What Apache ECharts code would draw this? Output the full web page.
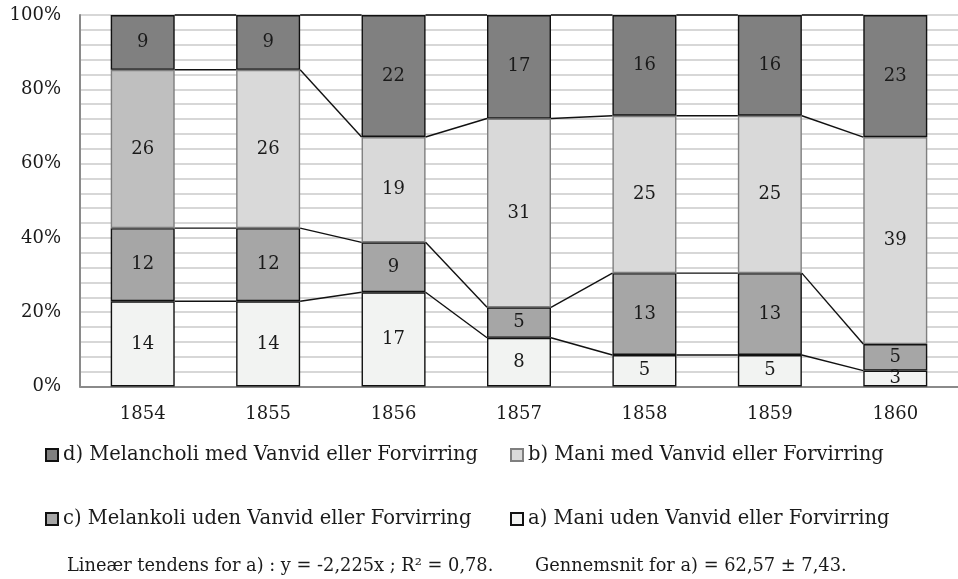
<!DOCTYPE html>
<html><head><meta charset="utf-8">
<script src="https://cdn.jsdelivr.net/npm/echarts@6/dist/echarts.min.js"></script>
<style>html,body{margin:0;padding:0;background:#fff}#c{width:958px;height:579px}</style>
</head><body><div id="c"></div>
<script>
const years = ['1854','1855','1856','1857','1858','1859','1860'];
const aVals = [14,14,17,8,5,5,3];
const cVals = [12,12,9,5,13,13,5];
const bVals = [26,26,19,31,25,25,39];
const dVals = [9,9,22,17,16,16,23];
const yTicks = [0,20,40,60,80,100];
const names = {
  d: 'd) Melancholi med Vanvid eller Forvirring',
  b: 'b) Mani med Vanvid eller Forvirring',
  c: 'c) Melankoli uden Vanvid eller Forvirring',
  a: 'a) Mani uden Vanvid eller Forvirring'
};
const noteLeft = 'Lineær tendens for a) : y = -2,225x ; R² = 0,78.';
const noteRight = 'Gennemsnit for a) = 62,57 ± 7,43.';

const totals = years.map((_, i) => aVals[i] + cVals[i] + bVals[i] + dVals[i]);
const pct = arr => arr.map((v, i) => v / totals[i] * 100);
const levels = years.map((_, i) => {
  const t = totals[i];
  return [aVals[i] / t * 100, (aVals[i] + cVals[i]) / t * 100, (aVals[i] + cVals[i] + bVals[i]) / t * 100, 100];
});

const FONT = 'DejaVu Serif';
const TXT = '#1a1a1a';
const BW = 64;

function barSeries(key, vals, color, border, special) {
  return {
    name: names[key], type: 'bar', stack: 'all', barWidth: BW,
    data: pct(vals).map((v, i) => {
      const it = { value: v };
      if (special && special[i]) it.itemStyle = { color: special[i] };
      return it;
    }),
    itemStyle: { color: color, borderColor: border, borderWidth: 1.4 },
    label: { show: true, position: 'inside', fontFamily: FONT, fontSize: 18, color: TXT,
      formatter: p => String(vals[p.dataIndex]) },
    emphasis: { disabled: true }
  };
}

const chart = echarts.init(document.getElementById('c'), null, { renderer: 'canvas' });
const legendBase = { itemWidth: 12, itemHeight: 12, icon: 'rect', selectedMode: false, padding: 0,
  textStyle: { fontFamily: FONT, fontSize: 19.5, color: TXT }, itemGap: 0 };
chart.setOption({
  animation: false,
  backgroundColor: '#fff',
  grid: { left: 80, right: -5, top: 15, bottom: 192.5, containLabel: false },
  xAxis: { type: 'category', data: years,
    axisLine: { lineStyle: { color: '#8a8a8a', width: 2 } },
    axisTick: { show: false },
    axisLabel: { fontFamily: FONT, fontSize: 18, color: TXT, margin: 19 } },
  yAxis: { type: 'value', min: yTicks[0], max: yTicks[yTicks.length - 1], interval: 20,
    axisLine: { show: true, lineStyle: { color: '#8a8a8a', width: 2 } },
    axisTick: { show: false },
    axisLabel: { fontFamily: FONT, fontSize: 18, color: TXT, margin: 19, formatter: v => v + '%' },
    splitLine: { lineStyle: { color: '#cacaca', width: 1.5 } },
    minorTick: { show: false, splitNumber: 5 },
    minorSplitLine: { show: true, lineStyle: { color: '#cacaca', width: 1.5 } } },
  legend: [
    Object.assign({}, legendBase, { data: [names.d], left: 45, top: 445 }),
    Object.assign({}, legendBase, { data: [names.b], left: 510, top: 445 }),
    Object.assign({}, legendBase, { data: [names.c], left: 45, top: 509 }),
    Object.assign({}, legendBase, { data: [names.a], left: 510, top: 509 })
  ],
  graphic: [
    { type: 'text', x: 67, y: 566, style: { text: noteLeft, font: '17.8px "' + FONT + '"', fill: TXT, verticalAlign: 'middle' } },
    { type: 'text', x: 535, y: 566, style: { text: noteRight, font: '17.8px "' + FONT + '"', fill: TXT, verticalAlign: 'middle' } }
  ],
  series: [
    barSeries('a', aVals, '#f2f3f2', '#111'),
    barSeries('c', cVals, '#a6a6a6', '#111'),
    barSeries('b', bVals, '#d9d9d9', '#7f7f7f', { 0: '#bfbfbf' }),
    barSeries('d', dVals, '#808080', '#111'),
    {
      type: 'custom', coordinateSystem: 'cartesian2d', silent: true, z: 5, clip: false,
      data: years.slice(0, -1).map((_, i) => [i, 0]),
      renderItem: (params, api) => {
        const i = api.value(0);
        const children = [];
        for (let k = 0; k < 4; k++) {
          const p1 = api.coord([i, levels[i][k]]);
          const p2 = api.coord([i + 1, levels[i + 1][k]]);
          children.push({ type: 'line', shape: { x1: p1[0] + BW / 2, y1: p1[1], x2: p2[0] - BW / 2, y2: p2[1] },
            style: { stroke: '#111', lineWidth: 1.4 } });
        }
        return { type: 'group', children };
      }
    }
  ]
});
</script></body></html>
